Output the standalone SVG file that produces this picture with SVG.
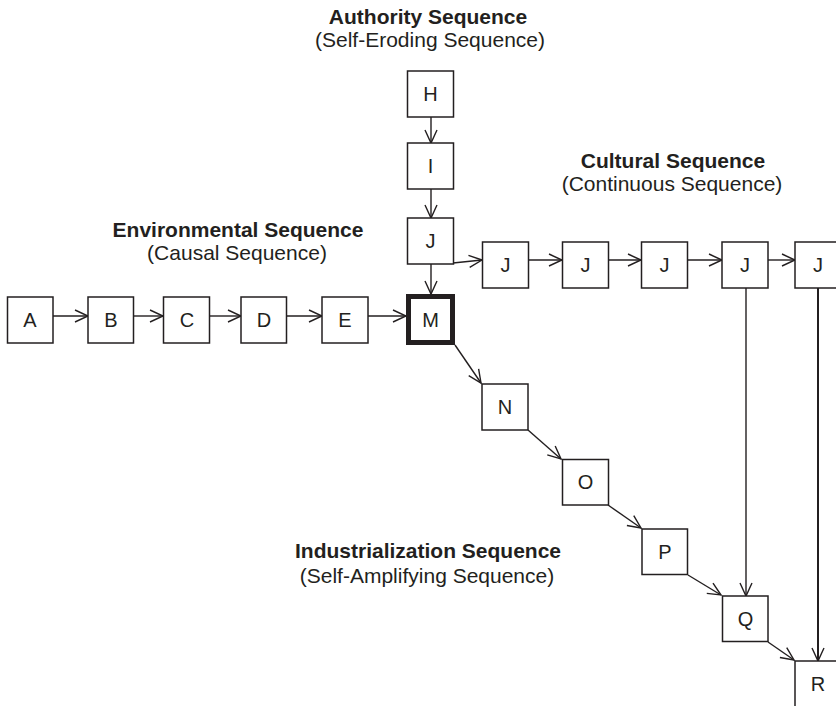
<svg xmlns="http://www.w3.org/2000/svg" width="836" height="706" viewBox="0 0 836 706">
<style>
.box{fill:#fff;stroke:#231f20;stroke-width:1.5}
.bold-box{fill:#fff;stroke:#231f20;stroke-width:5}
.lbl{font-family:"Liberation Sans",Arial,sans-serif;font-size:20px;fill:#231f20;text-anchor:middle}
.title{font-family:"Liberation Sans",Arial,sans-serif;font-size:21px;font-weight:bold;fill:#231f20;text-anchor:middle}
.sub{font-family:"Liberation Sans",Arial,sans-serif;font-size:21px;fill:#231f20;text-anchor:middle}
.edge{stroke:#231f20;stroke-width:1.4;fill:none;marker-end:url(#arr)}
</style>
<defs>
<marker id="arr" markerUnits="userSpaceOnUse" markerWidth="16" markerHeight="16" refX="13" refY="6.5" orient="auto" overflow="visible">
<path d="M0,0.5 L13,6.5 L0,12.5" fill="none" stroke="#231f20" stroke-width="1.4"/>
</marker>
</defs>
<rect width="836" height="706" fill="#fff"/>

<g id="labels">
<text class="title" x="428" y="24">Authority Sequence</text>
<text class="sub" x="430" y="47">(Self-Eroding Sequence)</text>
<text class="title" x="673" y="168">Cultural Sequence</text>
<text class="sub" x="672" y="191">(Continuous Sequence)</text>
<text class="title" x="238" y="237">Environmental Sequence</text>
<text class="sub" x="237" y="260">(Causal Sequence)</text>
<text class="title" x="428" y="558">Industrialization Sequence</text>
<text class="sub" x="427" y="583">(Self-Amplifying Sequence)</text>
</g>

<g id="connectors">
<line class="edge" x1="53" y1="316" x2="88" y2="316"/>
<line class="edge" x1="133" y1="316" x2="163" y2="316"/>
<line class="edge" x1="210" y1="316" x2="241" y2="316"/>
<line class="edge" x1="286" y1="316" x2="322" y2="316"/>
<line class="edge" x1="368" y1="316" x2="406" y2="316"/>
<line class="edge" x1="431" y1="117" x2="431" y2="143"/>
<line class="edge" x1="431" y1="189" x2="431" y2="218"/>
<line class="edge" x1="431" y1="264" x2="431" y2="294"/>
<line class="edge" x1="453" y1="263" x2="482" y2="260"/>
<line class="edge" x1="528" y1="260" x2="562" y2="260"/>
<line class="edge" x1="608" y1="260" x2="641" y2="260"/>
<line class="edge" x1="687" y1="260" x2="722" y2="260"/>
<line class="edge" x1="768" y1="260" x2="795" y2="260"/>
<line class="edge" x1="746" y1="288" x2="746" y2="596"/>
<line class="edge" x1="818" y1="288" x2="818" y2="661" style="stroke-width:2"/>
<line class="edge" x1="455" y1="345" x2="481" y2="383"/>
<line class="edge" x1="528" y1="430" x2="561" y2="459"/>
<line class="edge" x1="608" y1="505" x2="641" y2="528"/>
<line class="edge" x1="688" y1="575" x2="721" y2="595"/>
<line class="edge" x1="768" y1="642" x2="794" y2="660"/>
</g>

<g id="node-A"><rect class="box" x="7.5" y="297" width="45.5" height="46"/><text class="lbl" x="30" y="327">A</text></g>
<g id="node-B"><rect class="box" x="88" y="297" width="45.5" height="46"/><text class="lbl" x="111" y="327">B</text></g>
<g id="node-C"><rect class="box" x="163.5" y="297" width="46" height="46"/><text class="lbl" x="187" y="327">C</text></g>
<g id="node-D"><rect class="box" x="241" y="297" width="45.5" height="46"/><text class="lbl" x="264" y="327">D</text></g>
<g id="node-E"><rect class="box" x="322" y="297" width="46" height="46"/><text class="lbl" x="345" y="327">E</text></g>
<g id="node-M"><rect class="bold-box" x="408.5" y="296.5" width="44" height="46"/><text class="lbl" x="430.5" y="327">M</text></g>
<g id="node-H"><rect class="box" x="407.5" y="71" width="46" height="46"/><text class="lbl" x="430.5" y="101">H</text></g>
<g id="node-I"><rect class="box" x="407.5" y="143" width="46" height="46"/><text class="lbl" x="430.5" y="173">I</text></g>
<g id="node-J"><rect class="box" x="407.5" y="218" width="46" height="46"/><text class="lbl" x="430.5" y="248">J</text></g>
<g id="node-J1"><rect class="box" x="482.5" y="242" width="46" height="46"/><text class="lbl" x="505.5" y="272">J</text></g>
<g id="node-J2"><rect class="box" x="562.5" y="242" width="46" height="46"/><text class="lbl" x="585.5" y="272">J</text></g>
<g id="node-J3"><rect class="box" x="641.5" y="242" width="46" height="46"/><text class="lbl" x="664.5" y="272">J</text></g>
<g id="node-J4"><rect class="box" x="722" y="242" width="46" height="46"/><text class="lbl" x="745" y="272">J</text></g>
<g id="node-J5"><rect class="box" x="795" y="242" width="46" height="46"/><text class="lbl" x="818" y="272">J</text></g>
<g id="node-N"><rect class="box" x="482" y="384" width="46" height="46"/><text class="lbl" x="505" y="414">N</text></g>
<g id="node-O"><rect class="box" x="562.5" y="459.5" width="46" height="45.5"/><text class="lbl" x="585.5" y="489">O</text></g>
<g id="node-P"><rect class="box" x="642" y="529" width="45.5" height="45.5"/><text class="lbl" x="665" y="559">P</text></g>
<g id="node-Q"><rect class="box" x="722.5" y="596" width="45.5" height="45.5"/><text class="lbl" x="745.5" y="626">Q</text></g>
<g id="node-R"><rect class="box" x="795" y="661" width="46" height="46"/><text class="lbl" x="818" y="691">R</text></g>
</svg>
